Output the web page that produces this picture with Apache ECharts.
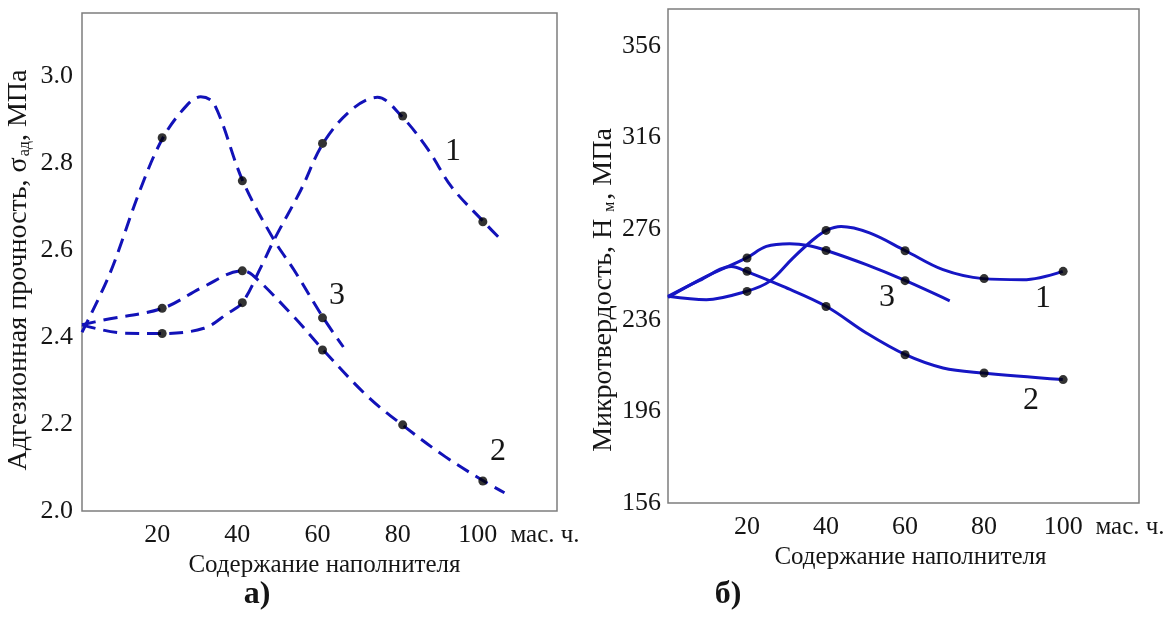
<!DOCTYPE html>
<html>
<head>
<meta charset="utf-8">
<script src="https://cdn.jsdelivr.net/npm/echarts@6/dist/echarts.min.js"></script>
<style>
html,body{margin:0;padding:0;background:#fff;}
#c{width:1164px;height:617px;}
</style>
</head>
<body>
<div id="c"></div>
<script>
// ---- Panel a) : adhesion strength, MPa ----
const X_TICKS = [20, 40, 60, 80, 100];
const PTS_X = [20, 40, 60, 80, 100];
const PTS_X3 = [20, 40, 60];
const A1_PTS = [2.408, 2.479, 2.845, 2.908, 2.665];
const A2_PTS = [2.466, 2.552, 2.370, 2.198, 2.069];
const A3_PTS = [2.858, 2.759, 2.444];
// curve traces
const A1_CX = [0, 10.3, 20.1, 30.4, 36.3, 40.0, 44.6, 47.9, 54.6, 60.2, 67.2, 73.7, 79.7, 86.4, 92.2, 100.2, 105];
const A1_CY = [2.428, 2.409, 2.408, 2.420, 2.454, 2.479, 2.56, 2.623, 2.738, 2.846, 2.922, 2.951, 2.908, 2.830, 2.745, 2.665, 2.619];
const A2_CX = [0, 5.3, 20.1, 30.4, 40.0, 42.5, 53.0, 60.2, 71.3, 79.9, 90.6, 100.2, 105.4];
const A2_CY = [2.428, 2.439, 2.466, 2.516, 2.552, 2.543, 2.445, 2.370, 2.263, 2.198, 2.125, 2.069, 2.042];
const A3_CX = [0, 7.0, 14.5, 20.2, 26.2, 29.6, 32.9, 40.1, 47.9, 52.9, 60.2, 65.2];
const A3_CY = [2.411, 2.547, 2.738, 2.858, 2.933, 2.952, 2.937, 2.759, 2.623, 2.554, 2.444, 2.377];

// ---- Panel б) : microhardness, MPa ----
const B1_PTS = [248.6, 275.3, 266.4, 254.2, 257.4];
const B2_PTS = [257.4, 242.0, 220.9, 212.9, 210.0];
const B3_PTS = [263.2, 266.5, 253.3];
const B1_CX = [0, 9.7, 19.8, 25.7, 31.6, 36.7, 40.1, 43.8, 51.0, 60.1, 69.6, 79.7, 89.8, 99.9];
const B1_CY = [246.5, 245.0, 248.6, 253.0, 263.2, 271.2, 275.3, 277.0, 274.2, 266.4, 258.1, 254.2, 253.7, 257.4];
const B2_CX = [0, 8.0, 16.0, 19.8, 29.1, 40.1, 50.2, 60.1, 69.6, 79.7, 99.9];
const B2_CY = [246.4, 253.4, 259.5, 257.4, 250.8, 242.0, 230.4, 220.9, 215.1, 212.9, 210.0];
const B3_CX = [0, 9.7, 19.8, 24.9, 30.8, 35.8, 40.1, 50.2, 60.1, 71.3];
const B3_CY = [246.0, 255.2, 263.2, 268.3, 269.5, 268.6, 266.5, 260.3, 253.3, 244.5];

const A_Y_TICKS = ['2.0', '2.2', '2.4', '2.6', '2.8', '3.0'];
const B_Y_TICKS = ['156', '196', '236', '276', '316', '356'];

const FONT = '"Liberation Serif", "Times New Roman", serif';
const TXT = '#151515';
const BLUE_A = '#1212b8';
const BLUE_B = '#1616c4';

const zip = (xs, ys) => xs.map((x, i) => [x, ys[i]]);

function lineSeries(xi, xs, ys, color, dashed) {
  return {
    type: 'line', xAxisIndex: xi, yAxisIndex: xi,
    data: zip(xs, ys), smooth: 0.35, showSymbol: false, silent: true,
    lineStyle: { color: color, width: 3, type: dashed ? [14, 8] : 'solid', cap: 'butt' },
    z: 2
  };
}
function dotSeries(xi, xs, ys) {
  return {
    type: 'scatter', xAxisIndex: xi, yAxisIndex: xi,
    data: zip(xs, ys), symbol: 'circle', symbolSize: 9,
    itemStyle: { color: '#000' }, silent: true, z: 5
  };
}

const xLabelFmt = v => X_TICKS.includes(Math.round(v)) && Math.abs(v - Math.round(v)) < 1e-6 ? String(Math.round(v)) : '';

const chart = echarts.init(document.getElementById('c'), null, { renderer: 'canvas' });

const option = {
  animation: false,
  backgroundColor: '#fff',
  grid: [
    { left: 82, top: 13, width: 475, height: 498, show: true, borderColor: '#7d7d7d', borderWidth: 1.5, backgroundColor: 'transparent' },
    { left: 668, top: 9, width: 471, height: 494, show: true, borderColor: '#7d7d7d', borderWidth: 1.5, backgroundColor: 'transparent' }
  ],
  xAxis: [
    {
      gridIndex: 0, type: 'value', min: 0, max: 118.5, interval: 20,
      axisLine: { show: false }, axisTick: { show: false }, splitLine: { show: false },
      axisLabel: { formatter: xLabelFmt, fontFamily: FONT, fontSize: 26, color: TXT, margin: 11, padding: [0, 10, 0, 0] },
      name: 'Содержание наполнителя', nameLocation: 'middle', nameGap: 39,
      nameTextStyle: { fontFamily: FONT, fontSize: 25, color: TXT, padding: [0, 0, 0, 10] }
    },
    {
      gridIndex: 1, type: 'value', min: 0, max: 119.2, interval: 20,
      axisLine: { show: false }, axisTick: { show: false }, splitLine: { show: false },
      axisLabel: { formatter: xLabelFmt, fontFamily: FONT, fontSize: 26, color: TXT, margin: 11 },
      name: 'Содержание наполнителя', nameLocation: 'middle', nameGap: 39,
      nameTextStyle: { fontFamily: FONT, fontSize: 25, color: TXT, padding: [0, 0, 0, 14] }
    }
  ],
  yAxis: [
    {
      gridIndex: 0, type: 'value', min: 2.0, max: 3.1448, interval: 0.2,
      axisLine: { show: false }, axisTick: { show: false }, splitLine: { show: false },
      axisLabel: {
        fontFamily: FONT, fontSize: 26, color: TXT, margin: 9,
        formatter: v => { const s = v.toFixed(1); return A_Y_TICKS.includes(s) && Math.abs(v * 5 - Math.round(v * 5)) < 1e-6 ? s : ''; }
      },
      name: '{n|Адгезионная прочность, σ}{s|ад}{n|, МПа}', nameLocation: 'middle', nameGap: 49,
      nameTextStyle: {
        fontFamily: FONT, fontSize: 28, color: TXT, padding: [0, 16, 0, 0],
        rich: { n: { fontFamily: FONT, fontSize: 28, color: TXT }, s: { fontFamily: FONT, fontSize: 16, color: TXT, verticalAlign: 'bottom', padding: [10, 0, 0, 1] } }
      }
    },
    {
      gridIndex: 1, type: 'value', min: 156, max: 372.2, interval: 4,
      axisLine: { show: false }, axisTick: { show: false }, splitLine: { show: false },
      axisLabel: {
        fontFamily: FONT, fontSize: 26, color: TXT, margin: 7,
        formatter: v => { const s = String(Math.round(v)); return B_Y_TICKS.includes(s) && Math.abs(v - Math.round(v)) < 1e-6 ? s : ''; }
      },
      name: '{n|Микротвердость, Н}{s| м}{n|, МПа}', nameLocation: 'middle', nameGap: 50,
      nameTextStyle: {
        fontFamily: FONT, fontSize: 28, color: TXT, padding: [0, 68, 0, 0],
        rich: { n: { fontFamily: FONT, fontSize: 28, color: TXT }, s: { fontFamily: FONT, fontSize: 16, color: TXT, verticalAlign: 'bottom', padding: [10, 2, 0, 3] } }
      }
    }
  ],
  series: [
    lineSeries(0, A1_CX, A1_CY, BLUE_A, true),
    lineSeries(0, A2_CX, A2_CY, BLUE_A, true),
    lineSeries(0, A3_CX, A3_CY, BLUE_A, true),
    dotSeries(0, PTS_X, A1_PTS),
    dotSeries(0, PTS_X, A2_PTS),
    dotSeries(0, PTS_X3, A3_PTS),
    lineSeries(1, B1_CX, B1_CY, BLUE_B, false),
    lineSeries(1, B2_CX, B2_CY, BLUE_B, false),
    lineSeries(1, B3_CX, B3_CY, BLUE_B, false),
    dotSeries(1, PTS_X, B1_PTS),
    dotSeries(1, PTS_X, B2_PTS),
    dotSeries(1, PTS_X3, B3_PTS)
  ]
};
chart.setOption(option);

function txt(x, y, s, size, bold) {
  return { type: 'text', x: x, y: y, silent: true, z: 10,
    style: { text: s, fontFamily: FONT, fontSize: size, fontWeight: bold ? 'bold' : 'normal', fill: TXT, align: 'center', verticalAlign: 'middle' } };
}
chart.setOption({
  graphic: [
    txt(545, 535, 'мас. ч.', 25),
    txt(1130, 527, 'мас. ч.', 25),
    txt(453, 152, '1', 32), txt(337, 296, '3', 32), txt(498, 452, '2', 32),
    txt(1043, 299, '1', 32), txt(887, 298, '3', 32), txt(1031, 401, '2', 32),
    txt(257, 595, 'а)', 32, true),
    txt(728, 595, 'б)', 32, true)
  ]
});
</script>
</body>
</html>
